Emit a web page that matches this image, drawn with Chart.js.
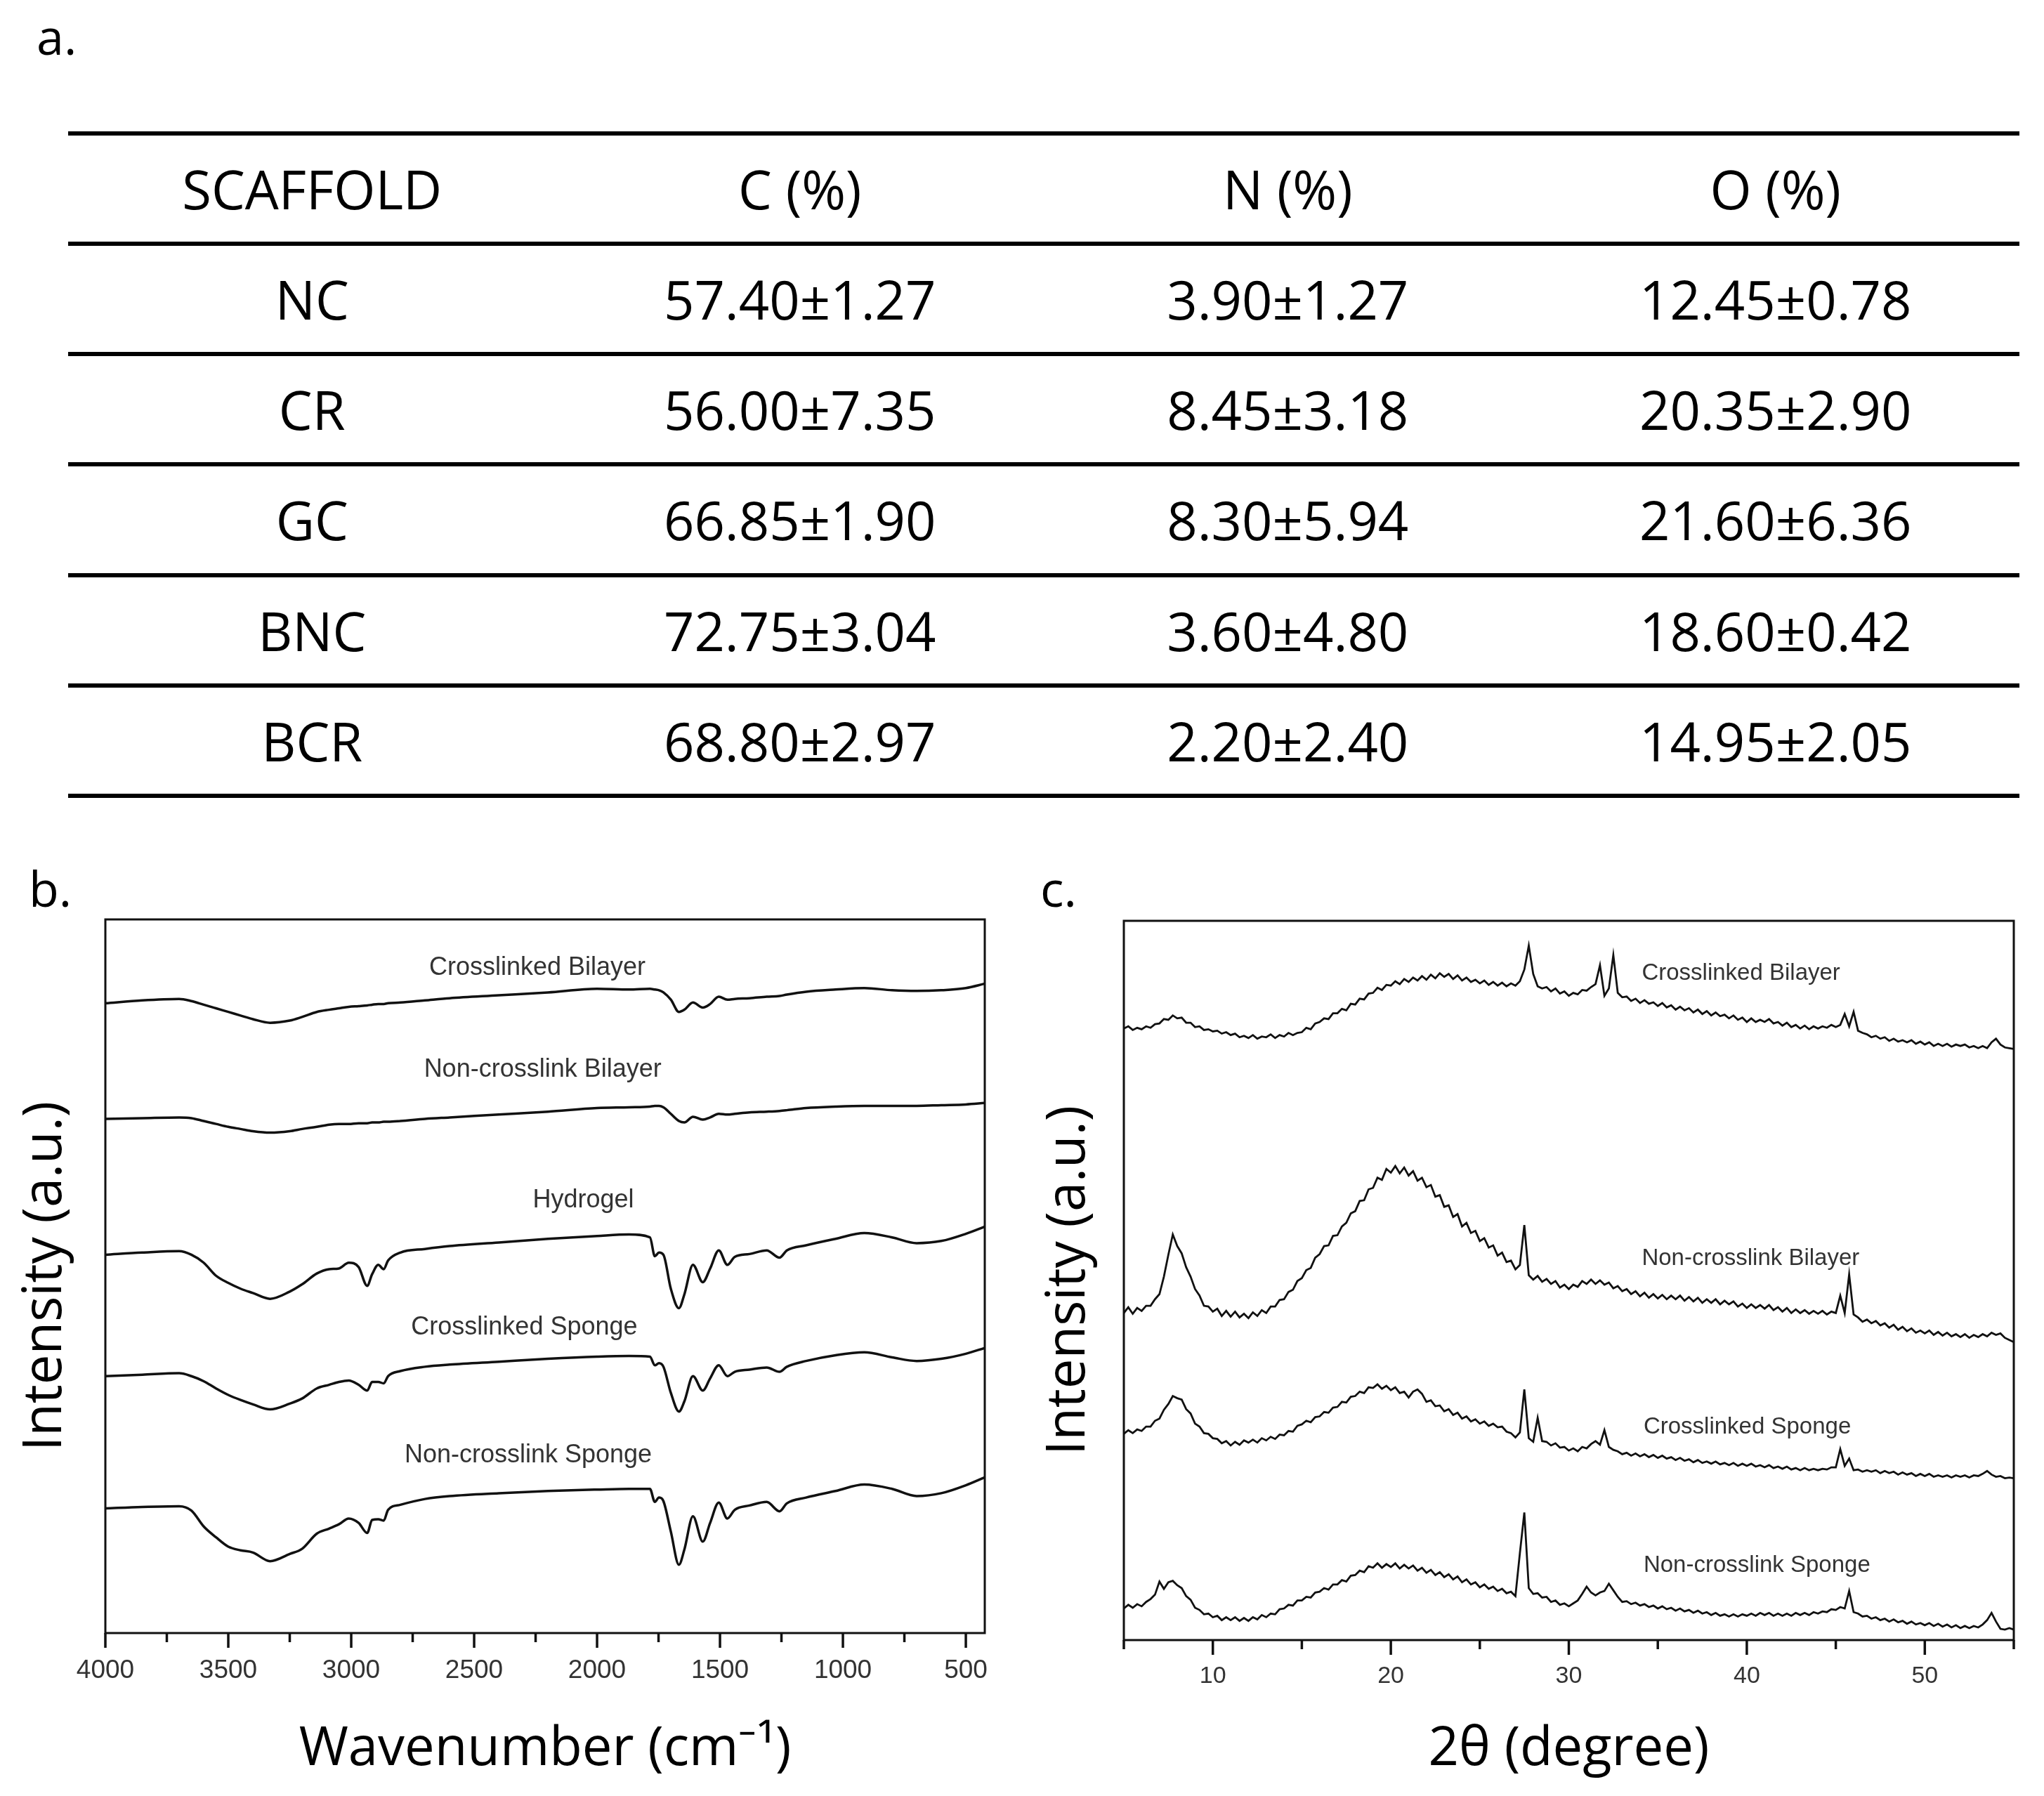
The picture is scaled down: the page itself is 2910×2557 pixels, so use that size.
<!DOCTYPE html>
<html>
<head>
<meta charset="utf-8">
<script src="https://cdn.jsdelivr.net/npm/chart.js@4.4.1/dist/chart.umd.min.js"></script>
<style>
  body { margin: 0; background: #fff; }
  #page { position: relative; width: 2910px; height: 2557px; overflow: hidden; font-family: "Open Sans", sans-serif; color: #000; }
  .tag { position: absolute; font-size: 70px; line-height: 70px; }
  #table { position: absolute; left: 97px; top: 186.5px; width: 2778px; border-top: 6px solid #000; }
  .row { display: flex; height: 151.3px; border-bottom: 6px solid #000; }
  .row div { flex: 1; text-align: center; line-height: 151.3px; font-size: 76px; }
  canvas { position: absolute; top: 1250px; }
</style>
</head>
<body>
<div id="page">
  <div class="tag" style="left:52px; top:16px">a.</div>
  <div id="table"></div>
  <canvas id="ftir" width="1450" height="1307" style="left:0"></canvas>
  <canvas id="xrd" width="1460" height="1307" style="left:1450px"></canvas>
  <div class="tag" style="left:41px; top:1229px">b.</div>
  <div class="tag" style="left:1481px; top:1229px">c.</div>
</div>
<script>
// a. elemental composition
const tableHead = ["SCAFFOLD", "C (%)", "N (%)", "O (%)"];
const scaffolds = ["NC", "CR", "GC", "BNC", "BCR"];
const carbon = ["57.40±1.27", "56.00±7.35", "66.85±1.90", "72.75±3.04", "68.80±2.97"];
const nitrogen = ["3.90±1.27", "8.45±3.18", "8.30±5.94", "3.60±4.80", "2.20±2.40"];
const oxygen = ["12.45±0.78", "20.35±2.90", "21.60±6.36", "18.60±0.42", "14.95±2.05"];

// b. FTIR
const ftirNames = ["Crosslinked Bilayer", "Non-crosslink Bilayer", "Hydrogel", "Crosslinked Sponge", "Non-crosslink Sponge"];
const ftirWn = [4000, 3850, 3700, 3650, 3600, 3550, 3500, 3450, 3400, 3330,
  3250, 3200, 3140, 3090, 3050, 3010, 2970, 2935, 2915, 2890,
  2868, 2850, 2800, 2700, 2600, 2400, 2200, 2000, 1870, 1785,
  1765, 1748, 1730, 1700, 1667, 1645, 1610, 1570, 1540, 1505,
  1470, 1440, 1380, 1310, 1258, 1228, 1150, 1030, 913, 800,
  700, 600, 500, 423];
const ftirCrossBilayer = [88.7, 89.1, 89.3, 89.0, 88.5, 88.0, 87.5, 87.0, 86.5, 86.0,
  86.3, 86.8, 87.5, 87.8, 88.0, 88.2, 88.3, 88.4, 88.5, 88.6,
  88.6, 88.7, 88.8, 89.1, 89.4, 89.8, 90.2, 90.7, 90.6, 90.7,
  90.6, 90.5, 90.2, 89.2, 87.5, 87.8, 88.8, 88.1, 88.6, 89.6,
  89.2, 89.3, 89.4, 89.6, 89.7, 89.9, 90.3, 90.6, 90.8, 90.5,
  90.4, 90.5, 90.8, 91.4];
const ftirNonBilayer = [72.7, 72.8, 72.9, 72.8, 72.4, 72.0, 71.6, 71.3, 71.0, 70.8,
  71.0, 71.3, 71.6, 71.9, 72.0, 72.0, 72.1, 72.1, 72.2, 72.2,
  72.3, 72.3, 72.4, 72.7, 72.9, 73.3, 73.7, 74.2, 74.3, 74.4,
  74.5, 74.5, 74.3, 73.4, 72.4, 72.2, 73.0, 72.6, 72.9, 73.4,
  73.3, 73.4, 73.6, 73.7, 73.8, 73.9, 74.2, 74.4, 74.5, 74.5,
  74.5, 74.6, 74.7, 74.9];
const ftirHydrogel = [53.9, 54.2, 54.4, 53.9, 52.8, 51.0, 50.0, 49.2, 48.6, 47.8,
  48.8, 49.8, 51.3, 51.9, 52.0, 52.8, 52.2, 49.6, 51.2, 52.5,
  51.9, 53.1, 54.2, 54.7, 55.1, 55.6, 56.1, 56.5, 56.7, 56.3,
  53.7, 54.2, 53.9, 49.2, 46.5, 48.4, 52.5, 50.1, 52.0, 54.5,
  52.5, 53.6, 54.0, 54.5, 53.5, 54.5, 55.2, 56.1, 56.9, 56.3,
  55.5, 55.8, 56.8, 57.8];
const ftirCrossSponge = [37.1, 37.3, 37.5, 37.1, 36.4, 35.4, 34.5, 33.8, 33.2, 32.5,
  33.3, 34.0, 35.4, 35.9, 36.3, 36.5, 35.9, 35.1, 36.3, 36.3,
  36.1, 37.1, 37.8, 38.4, 38.7, 39.1, 39.5, 39.8, 39.9, 39.8,
  38.6, 38.9, 38.4, 34.8, 32.2, 33.6, 37.1, 35.1, 36.8, 38.6,
  37.1, 37.7, 38.0, 38.3, 37.7, 38.4, 39.2, 40.0, 40.4, 39.7,
  39.2, 39.5, 40.2, 41.0];
const ftirNonSponge = [18.8, 19.0, 19.1, 18.5, 16.3, 14.8, 13.5, 13.0, 12.7, 11.5,
  12.5, 13.2, 15.3, 16.0, 16.6, 17.4, 16.8, 15.4, 17.2, 17.3,
  17.1, 18.6, 19.3, 20.1, 20.5, 20.9, 21.2, 21.4, 21.5, 21.5,
  19.7, 20.3, 19.8, 15.6, 11.0, 13.1, 17.7, 14.2, 16.8, 19.6,
  17.4, 18.6, 19.2, 19.7, 18.4, 19.5, 20.3, 21.2, 22.1, 21.5,
  20.5, 20.9, 22.0, 23.1];
const ftirTicks = [4000, 3750, 3500, 3250, 3000, 2750, 2500, 2250, 2000, 1750, 1500, 1250, 1000, 750, 500];
const ftirTickLabels = ["4000", "", "3500", "", "3000", "", "2500", "", "2000", "", "1500", "", "1000", "", "500"];

// c. XRD
const xrdNames = ["Crosslinked Bilayer", "Non-crosslink Bilayer", "Crosslinked Sponge", "Non-crosslink Sponge"];
const xrdAngle = [5, 5.25, 5.5, 5.75, 6, 6.25, 6.5, 6.75, 7, 7.25, 7.5, 7.75, 8, 8.25, 8.5, 8.75, 9, 9.25, 9.5, 9.75,
  10, 10.25, 10.5, 10.75, 11, 11.25, 11.5, 11.75, 12, 12.25, 12.5, 12.75, 13, 13.25, 13.5, 13.75, 14, 14.25, 14.5, 14.75,
  15, 15.25, 15.5, 15.75, 16, 16.25, 16.5, 16.75, 17, 17.25, 17.5, 17.75, 18, 18.25, 18.5, 18.75, 19, 19.25, 19.5, 19.75,
  20, 20.25, 20.5, 20.75, 21, 21.25, 21.5, 21.75, 22, 22.25, 22.5, 22.75, 23, 23.25, 23.5, 23.75, 24, 24.25, 24.5, 24.75,
  25, 25.25, 25.5, 25.75, 26, 26.25, 26.5, 26.75, 27, 27.25, 27.5, 27.75, 28, 28.25, 28.5, 28.75, 29, 29.25, 29.5, 29.75,
  30, 30.25, 30.5, 30.75, 31, 31.25, 31.5, 31.75, 32, 32.25, 32.5, 32.75, 33, 33.25, 33.5, 33.75, 34, 34.25, 34.5, 34.75,
  35, 35.25, 35.5, 35.75, 36, 36.25, 36.5, 36.75, 37, 37.25, 37.5, 37.75, 38, 38.25, 38.5, 38.75, 39, 39.25, 39.5, 39.75,
  40, 40.25, 40.5, 40.75, 41, 41.25, 41.5, 41.75, 42, 42.25, 42.5, 42.75, 43, 43.25, 43.5, 43.75, 44, 44.25, 44.5, 44.75,
  45, 45.25, 45.5, 45.75, 46, 46.25, 46.5, 46.75, 47, 47.25, 47.5, 47.75, 48, 48.25, 48.5, 48.75, 49, 49.25, 49.5, 49.75,
  50, 50.25, 50.5, 50.75, 51, 51.25, 51.5, 51.75, 52, 52.25, 52.5, 52.75, 53, 53.25, 53.5, 53.75, 54, 54.25, 54.5, 54.75,
  55];
const xrdCrossBilayer = [85.1, 85.4, 84.9, 85.2, 85.0, 85.4, 85.2, 85.7, 85.8, 86.4, 86.3, 86.9, 86.5, 86.6, 85.9, 85.9, 85.3, 85.4, 84.9, 85.0,
  84.7, 84.8, 84.4, 84.6, 84.2, 84.4, 83.9, 84.1, 83.8, 84.2, 83.7, 84.0, 83.9, 84.3, 83.8, 84.2, 84.0, 84.5, 84.2, 84.5,
  84.6, 85.2, 85.0, 85.8, 86.0, 86.5, 86.4, 87.2, 87.2, 87.8, 87.6, 88.5, 88.4, 89.2, 89.1, 89.9, 90.0, 90.7, 90.4, 91.1,
  91.0, 91.6, 91.2, 91.9, 91.5, 92.1, 91.7, 92.3, 91.8, 92.5, 92.0, 92.7, 92.2, 92.6, 91.9, 92.4, 91.7, 92.1, 91.5, 91.8,
  91.3, 91.7, 91.1, 91.5, 91.0, 91.4, 90.9, 91.3, 91.0, 91.6, 93.2, 96.5, 92.6, 90.9, 90.6, 90.8, 90.2, 90.6, 89.9, 90.2,
  89.6, 90.0, 89.8, 90.4, 90.3, 90.8, 91.2, 93.8, 89.6, 90.6, 95.2, 90.0, 89.4, 89.5, 88.9, 89.2, 88.6, 89.0, 88.5, 88.7,
  88.2, 88.6, 88.0, 88.3, 87.7, 88.1, 87.6, 87.9, 87.3, 87.7, 87.1, 87.5, 86.9, 87.3, 86.8, 87.0, 86.5, 86.9, 86.3, 86.6,
  86.0, 86.5, 86.0, 86.3, 86.0, 86.4, 85.8, 86.0, 85.5, 85.9, 85.3, 85.6, 85.1, 85.5, 85.0, 85.4, 85.1, 85.4, 85.2, 85.6,
  85.3, 85.6, 87.1, 85.4, 87.4, 84.8, 84.5, 84.3, 83.9, 84.1, 83.7, 83.9, 83.4, 83.7, 83.3, 83.5, 83.2, 83.5, 83.0, 83.3,
  82.9, 83.2, 82.7, 83.0, 82.7, 83.0, 82.6, 82.9, 82.7, 82.9, 82.5, 82.7, 82.4, 82.7, 82.4, 83.2, 83.7, 82.9, 82.5, 82.4,
  82.3];
const xrdNonBilayer = [46.0, 46.8, 45.9, 46.7, 46.3, 47.0, 47.0, 47.9, 48.6, 51.0, 54.0, 56.8, 55.2, 54.2, 52.3, 51.0, 49.3, 48.4, 47.0, 46.9,
  46.2, 46.6, 45.6, 46.3, 45.5, 46.2, 45.4, 45.9, 45.3, 46.1, 45.6, 46.4, 46.0, 46.9, 46.9, 47.8, 47.9, 48.9, 49.2, 50.4,
  50.8, 51.9, 52.2, 53.6, 54.1, 55.2, 55.3, 56.6, 56.7, 57.9, 58.4, 59.7, 60.0, 61.4, 61.5, 63.0, 63.2, 64.6, 64.3, 65.8,
  65.3, 66.2, 65.2, 66.0, 64.9, 65.5, 64.2, 64.6, 63.3, 63.6, 62.0, 62.2, 60.6, 60.8, 59.2, 59.6, 57.9, 58.4, 57.0, 57.3,
  55.9, 56.3, 55.0, 55.3, 53.9, 54.3, 53.0, 53.2, 52.0, 52.6, 58.1, 51.2, 50.6, 51.1, 50.3, 50.7, 50.0, 50.4, 49.5, 49.9,
  49.3, 49.9, 49.6, 50.4, 50.0, 50.6, 50.0, 50.5, 49.9, 50.2, 49.4, 49.7, 49.0, 49.3, 48.6, 49.0, 48.3, 48.8, 48.1, 48.6,
  48.0, 48.5, 47.9, 48.4, 47.9, 48.4, 47.7, 48.2, 47.6, 48.1, 47.4, 47.9, 47.4, 47.9, 47.2, 47.7, 47.2, 47.6, 46.9, 47.3,
  46.7, 47.2, 46.7, 47.1, 46.6, 47.1, 46.4, 46.8, 46.2, 46.7, 46.0, 46.5, 46.0, 46.4, 45.9, 46.3, 45.9, 46.3, 45.8, 46.2,
  46.0, 48.4, 46.0, 51.3, 45.8, 45.4, 44.8, 45.1, 44.6, 44.9, 44.3, 44.6, 44.0, 44.4, 43.7, 44.1, 43.5, 43.9, 43.3, 43.6,
  43.2, 43.6, 43.0, 43.4, 42.9, 43.3, 42.8, 43.1, 42.7, 43.1, 42.6, 43.0, 42.7, 43.1, 42.8, 43.3, 43.0, 43.2, 42.6, 42.3,
  42.0];
const xrdCrossSponge = [29.4, 29.9, 29.5, 30.0, 29.8, 30.4, 30.4, 31.2, 31.5, 32.7, 33.5, 34.6, 34.3, 34.1, 32.8, 32.2, 30.8, 30.4, 29.5, 29.4,
  28.8, 28.7, 28.1, 28.4, 27.8, 28.3, 27.9, 28.5, 28.2, 28.6, 28.2, 28.8, 28.5, 29.0, 28.7, 29.3, 29.2, 29.8, 29.7, 30.5,
  30.7, 31.2, 31.0, 31.7, 31.8, 32.4, 32.3, 33.0, 33.1, 33.8, 33.7, 34.5, 34.6, 35.2, 35.0, 35.8, 35.7, 36.2, 35.6, 36.0,
  35.4, 35.8, 35.0, 35.2, 34.4, 35.2, 35.5, 34.9, 33.8, 34.0, 33.2, 33.3, 32.5, 32.8, 32.0, 32.3, 31.5, 31.8, 31.1, 31.4,
  30.8, 31.1, 30.5, 30.8, 30.3, 30.4, 29.7, 29.5, 28.9, 29.6, 35.5, 28.8, 28.3, 31.6, 28.4, 28.3, 27.8, 28.1, 27.5, 27.6,
  27.1, 27.4, 27.0, 27.6, 27.4, 28.0, 28.4, 27.9, 29.9, 27.6, 27.2, 27.0, 26.6, 26.8, 26.4, 26.7, 26.3, 26.6, 26.2, 26.5,
  26.1, 26.4, 26.0, 26.2, 25.8, 26.1, 25.7, 25.9, 25.5, 25.8, 25.4, 25.6, 25.3, 25.6, 25.2, 25.4, 25.1, 25.4, 25.0, 25.3,
  25.0, 25.3, 24.9, 25.1, 24.8, 25.1, 24.7, 24.9, 24.6, 24.9, 24.5, 24.7, 24.4, 24.7, 24.4, 24.6, 24.4, 24.6, 24.5, 24.8,
  24.8, 27.3, 25.0, 26.0, 24.4, 24.5, 24.2, 24.4, 24.2, 24.4, 24.0, 24.3, 24.0, 24.2, 23.8, 24.1, 23.8, 24.0, 23.6, 23.9,
  23.6, 23.9, 23.5, 23.7, 23.5, 23.7, 23.4, 23.7, 23.5, 23.7, 23.4, 23.7, 23.6, 23.9, 24.3, 23.8, 23.5, 23.6, 23.3, 23.4,
  23.3];
const xrdNonSponge = [5.4, 5.9, 5.5, 6.0, 5.7, 6.3, 6.7, 7.3, 9.1, 8.1, 9.0, 9.2, 8.6, 8.2, 7.1, 6.6, 5.5, 5.2, 4.6, 4.7,
  4.2, 4.4, 3.8, 4.2, 3.8, 4.2, 3.7, 4.1, 3.7, 4.2, 3.9, 4.5, 4.2, 4.7, 4.6, 5.3, 5.4, 5.9, 5.8, 6.5,
  6.5, 7.0, 6.9, 7.6, 7.7, 8.2, 8.0, 8.7, 8.7, 9.3, 9.1, 9.9, 10.0, 10.6, 10.4, 11.2, 11.0, 11.6, 11.0, 11.5,
  11.1, 11.6, 10.9, 11.4, 10.9, 11.3, 10.6, 11.0, 10.3, 10.7, 10.0, 10.4, 9.7, 10.1, 9.4, 9.8, 9.0, 9.4, 8.7, 9.0,
  8.3, 8.7, 8.1, 8.4, 7.8, 8.1, 7.5, 7.7, 7.1, 13.0, 18.6, 8.2, 7.4, 7.5, 6.9, 7.0, 6.3, 6.5, 5.9, 6.1,
  5.7, 6.1, 6.5, 7.4, 8.4, 7.6, 7.2, 7.6, 7.8, 8.8, 7.9, 7.0, 6.3, 6.4, 6.0, 6.2, 5.8, 6.0, 5.6, 5.8,
  5.4, 5.7, 5.3, 5.5, 5.1, 5.4, 5.0, 5.2, 4.8, 5.1, 4.7, 4.9, 4.5, 4.8, 4.4, 4.6, 4.3, 4.6, 4.3, 4.6,
  4.4, 4.7, 4.4, 4.8, 4.5, 4.8, 4.4, 4.7, 4.4, 4.7, 4.4, 4.8, 4.5, 4.8, 4.5, 4.9, 4.7, 5.0, 4.9, 5.3,
  5.2, 5.6, 5.4, 7.8, 4.9, 4.7, 4.3, 4.4, 4.0, 4.2, 3.8, 4.0, 3.6, 3.9, 3.5, 3.7, 3.3, 3.6, 3.2, 3.4,
  3.1, 3.4, 3.0, 3.3, 2.9, 3.2, 2.8, 3.1, 2.7, 3.0, 2.7, 3.0, 2.8, 3.2, 3.8, 4.8, 3.6, 2.6, 2.5, 2.7,
  2.5];
const xrdTicks = [5, 10, 15, 20, 25, 30, 35, 40, 45, 50, 55];
const xrdTickLabels = ["", "10", "", "20", "", "30", "", "40", "", "50", ""];

// table
const tableEl = document.getElementById("table");
const addRow = (cells) => {
  const row = document.createElement("div");
  row.className = "row";
  cells.forEach((c) => {
    const cell = document.createElement("div");
    cell.textContent = c;
    row.appendChild(cell);
  });
  tableEl.appendChild(row);
};
addRow(tableHead);
for (let i = 0; i < scaffolds.length; i++) {
  addRow([scaffolds[i], carbon[i], nitrogen[i], oxygen[i]]);
}

// box round the plot + outward ticks (long on labelled values)
const makeFrame = (tickValues, tickLabels) => ({
  id: "frame",
  afterDraw(chart) {
    const { ctx, chartArea: a, scales } = chart;
    ctx.save();
    ctx.strokeStyle = "#111";
    ctx.lineWidth = 3;
    ctx.strokeRect(a.left, a.top, a.right - a.left, a.bottom - a.top);
    ctx.lineWidth = 3.5;
    ctx.beginPath();
    tickValues.forEach((v, i) => {
      const px = scales.x.getPixelForValue(v);
      ctx.moveTo(px, a.bottom);
      ctx.lineTo(px, a.bottom + (tickLabels[i] ? 21 : 13));
    });
    ctx.stroke();
    ctx.restore();
  },
});

const makeLabels = (texts, spots, size, align) => ({
  id: "curveLabels",
  afterDatasetsDraw(chart) {
    const { ctx, scales } = chart;
    ctx.save();
    ctx.font = `${size}px "Liberation Sans", Arial, sans-serif`;
    ctx.fillStyle = "#333";
    ctx.textAlign = align;
    ctx.textBaseline = "middle";
    texts.forEach((t, i) => {
      ctx.fillText(t, scales.x.getPixelForValue(spots[i][0]), scales.y.getPixelForValue(spots[i][1]));
    });
    ctx.restore();
  },
});

const toPoints = (xs, ys) => xs.map((x, i) => ({ x: x, y: ys[i] }));

const titleFont = { family: '"Open Sans", sans-serif', size: 76 };

const buildOptions = (cfg) => ({
  responsive: false,
  animation: false,
  devicePixelRatio: 1,
  layout: { padding: { top: cfg.padTop, right: cfg.padRight, left: 0, bottom: 0 } },
  plugins: { legend: { display: false }, tooltip: { enabled: false } },
  elements: { point: { radius: 0 } },
  scales: {
    x: {
      type: "linear",
      reverse: cfg.reverse,
      min: cfg.min,
      max: cfg.max,
      afterBuildTicks: (s) => {
        s.ticks = cfg.ticks.map((v) => ({ value: v }));
      },
      afterFit: (s) => {
        s.height = cfg.xHeight;
      },
      ticks: {
        autoSkip: false,
        maxRotation: 0,
        padding: cfg.tickPad,
        color: "#333",
        font: { family: '"Liberation Sans", Arial, sans-serif', size: cfg.tickSize },
        callback: (v, i) => cfg.tickLabels[i],
      },
      grid: { display: false },
      border: { display: false },
      title: { display: true, text: cfg.xTitle, font: titleFont, color: "#000", padding: { top: 0, bottom: 20 } },
    },
    y: {
      min: cfg.yMin,
      max: cfg.yMax,
      afterFit: (s) => {
        s.width = cfg.yWidth;
      },
      ticks: { display: false },
      grid: { display: false },
      border: { display: false },
      title: { display: true, text: "Intensity (a.u.)", font: titleFont, color: "#000", padding: { top: cfg.yTitlePad, bottom: 0 } },
    },
  },
});

// b. FTIR chart
const ftirSeries = [ftirCrossBilayer, ftirNonBilayer, ftirHydrogel, ftirCrossSponge, ftirNonSponge];
new Chart(document.getElementById("ftir"), {
  type: "line",
  data: {
    datasets: ftirSeries.map((s, i) => ({
      label: ftirNames[i],
      data: toPoints(ftirWn, s),
      borderColor: "#111",
      borderWidth: 3.5,
      cubicInterpolationMode: "monotone",
      fill: false,
    })),
  },
  options: buildOptions({
    padTop: 59, padRight: 48, reverse: true, min: 423, max: 4000, yMin: 1.55, yMax: 100.3,
    ticks: ftirTicks, tickLabels: ftirTickLabels, xHeight: 232, tickPad: 24, tickSize: 37,
    xTitle: "Wavenumber (cm⁻¹)", yWidth: 150, yTitlePad: 20,
  }),
  plugins: [makeFrame(ftirTicks, ftirTickLabels), makeLabels(ftirNames, [[2243, 93.6], [2221, 79.5], [2056, 61.4], [2296, 43.8], [2280, 26.1]], 36, "center")],
});

// c. XRD chart
const xrdSeries = [xrdCrossBilayer, xrdNonBilayer, xrdCrossSponge, xrdNonSponge];
new Chart(document.getElementById("xrd"), {
  type: "line",
  data: {
    datasets: xrdSeries.map((s, i) => ({
      label: xrdNames[i],
      data: toPoints(xrdAngle, s),
      borderColor: "#111",
      borderWidth: 2.8,
      tension: 0,
      fill: false,
    })),
  },
  options: buildOptions({
    padTop: 61, padRight: 43, reverse: false, min: 5, max: 55, yMin: 1.06, yMax: 99.9,
    ticks: xrdTicks, tickLabels: xrdTickLabels, xHeight: 222, tickPad: 23, tickSize: 34,
    xTitle: "2θ (degree)", yWidth: 150, yTitlePad: 27,
  }),
  plugins: [makeFrame(xrdTicks, xrdTickLabels), makeLabels(xrdNames, [[34.1, 92.7], [34.1, 53.5], [34.2, 30.3], [34.2, 11.3]], 33, "left")],
});
</script>
</body>
</html>
